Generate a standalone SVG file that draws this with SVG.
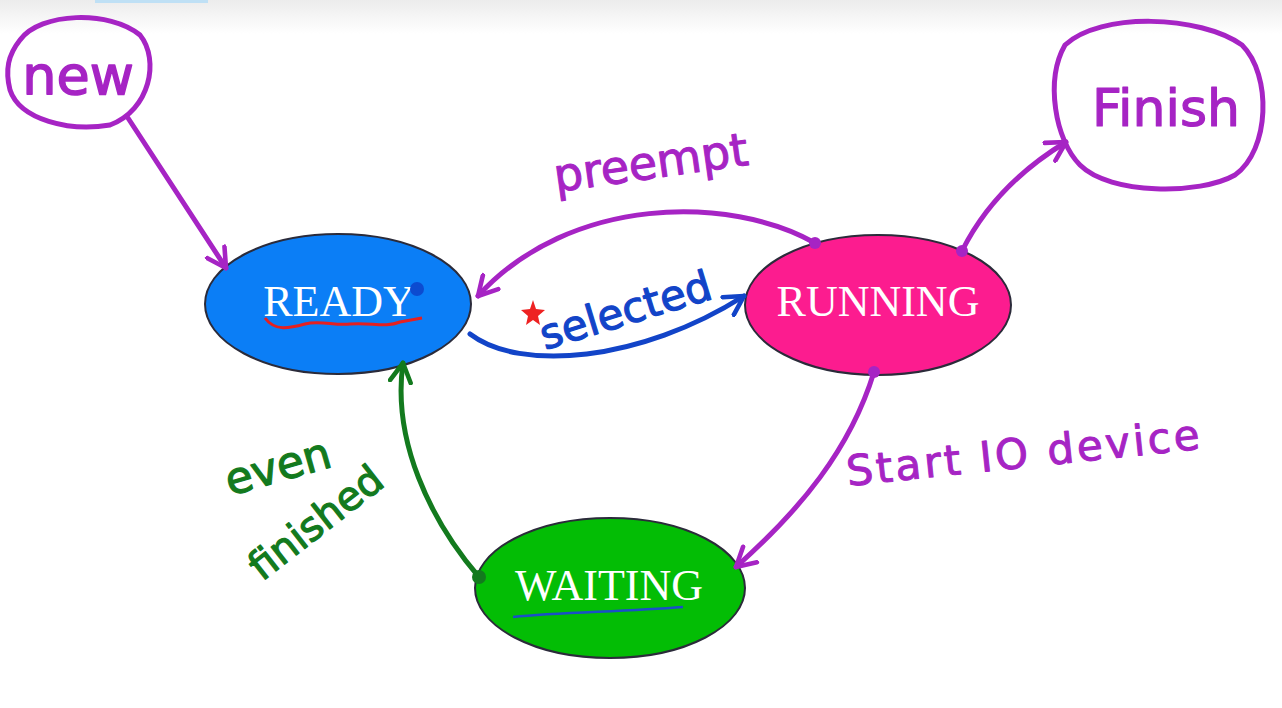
<svg xmlns="http://www.w3.org/2000/svg" width="1282" height="708" viewBox="0 0 1282 708">
<defs>
<linearGradient id="topg" x1="0" y1="0" x2="0" y2="1"><stop offset="0" stop-color="#ececec"/><stop offset="1" stop-color="#ffffff"/></linearGradient>
<marker id="ap" viewBox="0 0 12 12" refX="10" refY="6" markerWidth="5" markerHeight="5" orient="auto" markerUnits="strokeWidth"><path d="M1,1 L10,6 L1,11" fill="none" stroke="#a624c4" stroke-width="2.2" stroke-linecap="round" stroke-linejoin="round"/></marker>
<marker id="ab" viewBox="0 0 12 12" refX="10" refY="6" markerWidth="5" markerHeight="5" orient="auto" markerUnits="strokeWidth"><path d="M1,1 L10,6 L1,11" fill="none" stroke="#1244c8" stroke-width="2.2" stroke-linecap="round" stroke-linejoin="round"/></marker>
<marker id="ag" viewBox="0 0 12 12" refX="10" refY="6" markerWidth="5" markerHeight="5" orient="auto" markerUnits="strokeWidth"><path d="M1,1 L10,6 L1,11" fill="none" stroke="#137a1e" stroke-width="2.2" stroke-linecap="round" stroke-linejoin="round"/></marker>
<style>
.state{stroke:#2b2b3a;stroke-width:2}
.stxt{font-family:"Liberation Serif",serif;font-size:44px;fill:#ffffff;text-anchor:middle}
.hand{font-family:"DejaVu Sans",sans-serif;stroke-linejoin:round}
.cp{fill:none;stroke:#a624c4;stroke-width:5;stroke-linecap:round}
.cb{fill:none;stroke:#1244c8;stroke-width:5;stroke-linecap:round}
.cg{fill:none;stroke:#137a1e;stroke-width:5;stroke-linecap:round}
</style>
</defs>
<rect width="1282" height="708" fill="#ffffff"/>
<rect width="1282" height="34" fill="url(#topg)"/>
<rect x="95" y="0" width="113" height="3" fill="#bfe0f5"/>

<g id="new">
<path d="M20,40 C40,12 110,10 140,35 C160,60 150,110 110,125 C70,132 20,120 10,90 C5,70 8,55 20,40 Z" fill="none" stroke="#a624c4" stroke-width="5"/>
<text class="hand" x="78" y="94" font-size="54" fill="#a624c4" stroke="#a624c4" stroke-width="1.5" text-anchor="middle">new</text>
</g>

<g id="finish">
<path d="M1065,45 C1100,12 1200,15 1242,45 C1272,75 1270,150 1235,175 C1200,195 1110,195 1080,165 C1055,140 1045,80 1065,45 Z" fill="none" stroke="#a624c4" stroke-width="5"/>
<text class="hand" x="1166" y="126" font-size="52" fill="#a624c4" stroke="#a624c4" stroke-width="1.2" text-anchor="middle">Finish</text>
</g>

<g id="ready">
<ellipse class="state" cx="338" cy="304" rx="133" ry="70" fill="#0b7ef6"/>
<text class="stxt" x="339" y="316" font-size="42">READY</text>
<path d="M265,318 C275,332 290,328 305,324 C320,320 335,326 350,324 C370,322 385,328 400,322 L422,318" fill="none" stroke="#e52020" stroke-width="3"/>
<circle cx="417" cy="289" r="7" fill="#0c4bd0"/>
</g>

<g id="running">
<ellipse class="state" cx="878" cy="305" rx="133" ry="70" fill="#fc1c8f"/>
<text class="stxt" x="878" y="316">RUNNING</text>
</g>

<g id="waiting">
<ellipse class="state" cx="610" cy="588" rx="135" ry="70" fill="#03bd05"/>
<text class="stxt" x="609" y="600">WAITING</text>
<path d="M513,617 C560,612 620,612 683,607" fill="none" stroke="#1a4fc8" stroke-width="2.5"/>
</g>

<g id="connectors">
<path class="cp" d="M128,118 L226,268" marker-end="url(#ap)"/>
<path class="cp" d="M815,243 C730,195 570,195 478,296" marker-end="url(#ap)"/>
<circle cx="815" cy="243" r="6" fill="#a624c4"/>
<path class="cb" d="M470,334 C520,372 640,362 744,296" marker-end="url(#ab)"/>
<path class="cp" d="M962,251 C985,205 1020,170 1066,142" marker-end="url(#ap)"/>
<circle cx="962" cy="251" r="6" fill="#a624c4"/>
<path class="cp" d="M874,372 C850,450 800,510 736,567" marker-end="url(#ap)"/>
<circle cx="874" cy="372" r="6" fill="#a624c4"/>
<path class="cg" d="M479,577 C430,520 392,440 403,363" marker-end="url(#ag)"/>
<circle cx="479" cy="577" r="7" fill="#137a1e"/>
</g>

<g id="labels">
<text class="hand" transform="translate(556,192) rotate(-8)" font-size="46" fill="#a624c4" stroke="#a624c4" stroke-width="1">preempt</text>
<text class="hand" transform="translate(545,350) rotate(-17)" font-size="42" fill="#1244c8" stroke="#1244c8" stroke-width="1.2">selected</text>
<path d="M533,300 L536,309 L545,310 L538,316 L540,325 L533,320 L526,325 L528,316 L521,310 L530,309 Z" fill="#ee2222"/>
<text class="hand" transform="translate(848,486) rotate(-6)" font-size="42" letter-spacing="3" fill="#a624c4" stroke="#a624c4" stroke-width="1">Start IO device</text>
<text class="hand" transform="translate(230,496) rotate(-16)" font-size="44" fill="#137a1e" stroke="#137a1e" stroke-width="1.2">even</text>
<text class="hand" transform="translate(262,582) rotate(-38)" font-size="40" fill="#137a1e" stroke="#137a1e" stroke-width="1.2">finished</text>
</g>
</svg>
